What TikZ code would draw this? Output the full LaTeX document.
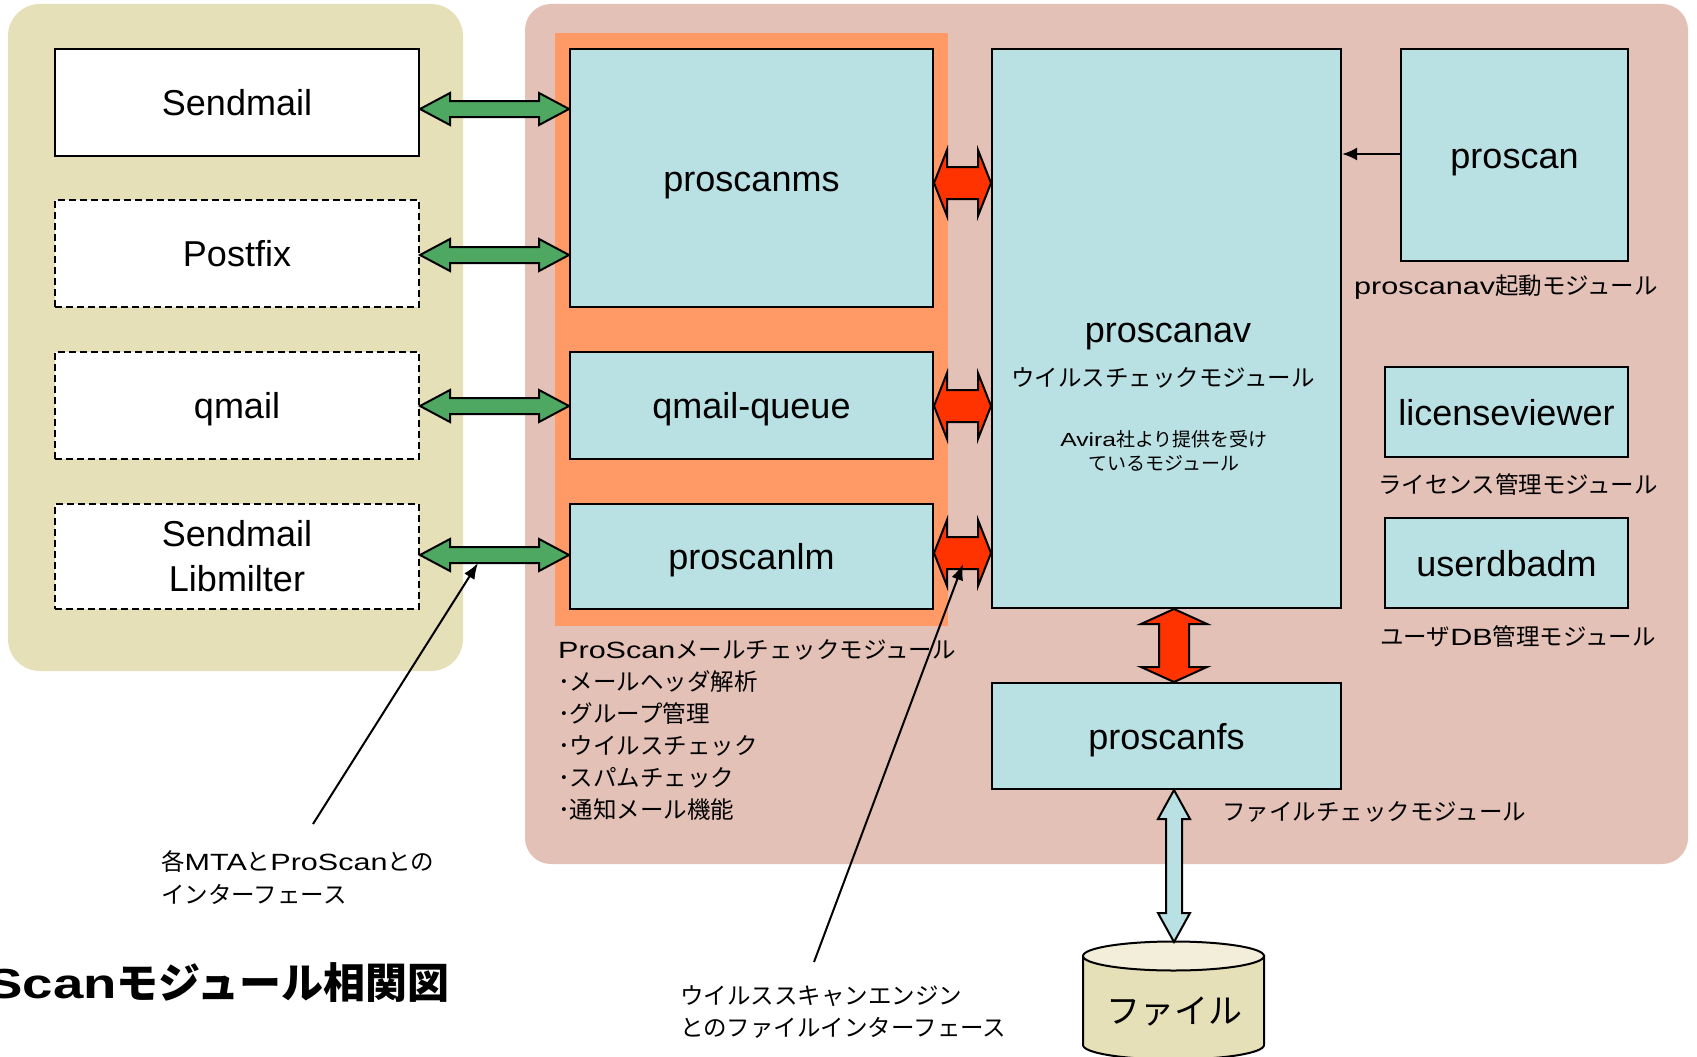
\documentclass[tikz,border=0pt]{standalone}
\usepackage{fontspec}
\setmainfont{Noto Sans CJK JP}
\newfontfamily\lat{Liberation Sans}
\newfontfamily\latw{Liberation Sans}[FakeStretch=1.3]
\usetikzlibrary{calc,arrows.meta}
\definecolor{beige}{RGB}{230,224,184}
\definecolor{pinkbg}{RGB}{228,193,183}
\definecolor{orng}{RGB}{255,153,102}
\definecolor{lblue}{RGB}{185,224,227}
\definecolor{grn}{RGB}{78,168,98}
\definecolor{redarr}{RGB}{255,51,0}
\definecolor{cyltop}{RGB}{242,238,217}
\newcommand\blkH[6]{\draw[#1] let \p1=#2, \p2=#3 in (\x1,\y1) -- (\x1+#6,\y1+#4) -- (\x1+#6,\y1+#5) -- (\x2-#6,\y1+#5) -- (\x2-#6,\y1+#4) -- (\x2,\y1) -- (\x2-#6,\y1-#4) -- (\x2-#6,\y1-#5) -- (\x1+#6,\y1-#5) -- (\x1+#6,\y1-#4) -- cycle;}
\newcommand\blkV[6]{\draw[#1] let \p1=#2, \p2=#3 in (\x1,\y1) -- (\x1+#4,\y1-#6) -- (\x1+#5,\y1-#6) -- (\x1+#5,\y2+#6) -- (\x1+#4,\y2+#6) -- (\x1,\y2) -- (\x1-#4,\y2+#6) -- (\x1-#5,\y2+#6) -- (\x1-#5,\y1-#6) -- (\x1-#4,\y1-#6) -- cycle;}
\begin{document}
\begin{tikzpicture}[x=1pt,y=-1pt,
  boxbase/.style={draw,line width=2pt,fill=lblue,inner sep=0pt,font=\lat\fontsize{36}{45}\selectfont},
  box/.style={boxbase,text height=30pt,text depth=3.5pt},
  mta/.style={box,fill=white},
  mtad/.style={mta,dash pattern=on 7pt off 4pt},
  lbl/.style={inner sep=0pt,font=\fontsize{23.5}{30}\selectfont},
  ptr/.style={line width=2pt,-{Latex[length=16pt,width=12pt]}},
  garrow/.style={draw=black,line width=2pt,fill=grn},
  rarrow/.style={draw=black,line width=2pt,fill=redarr},
  barrow/.style={draw=black,line width=2pt,fill=lblue}]
\useasboundingbox (0,0) rectangle (1697,1057);
\fill[white] (0,0) rectangle (1697,1057);
% panels
\fill[beige, rounded corners=32pt] (8,4) rectangle (463,671);
\fill[pinkbg, rounded corners=26pt] (525,4) rectangle (1688,864);
\fill[orng] (555,33) rectangle (948,626);
% MTA boxes
\node[mta, minimum width=364pt, minimum height=107pt] (sendmail) at (237,102.5) {Sendmail};
\node[mtad, minimum width=364pt, minimum height=107pt] (postfix) at (237,253.5) {Postfix};
\node[mtad, minimum width=364pt, minimum height=107pt] (qmail) at (237,405.5) {qmail};
\node[boxbase, fill=white, dash pattern=on 7pt off 4pt, align=center, minimum width=364pt, minimum height=105pt] (libmilter) at (237,556.5) {Sendmail\\Libmilter};
% ProScan boxes
\node[box, minimum width=363pt, minimum height=258pt] (proscanms) at (751.5,178) {proscanms};
\node[box, minimum width=363pt, minimum height=107pt] (qmailqueue) at (751.5,405.5) {qmail-queue};
\node[box, minimum width=363pt, minimum height=105pt] (proscanlm) at (751.5,556.5) {proscanlm};
\node[box, minimum width=349pt, minimum height=559pt] (proscanav) at (1166.5,328.5) {};
\node[box, minimum width=227pt, minimum height=211pt] (proscan) at (1514.5,155) {proscan};
\node[box, minimum width=243pt, minimum height=90pt] (licenseviewer) at (1506.5,412) {licenseviewer};
\node[box, minimum width=243pt, minimum height=90pt] (userdbadm) at (1506.5,563) {userdbadm};
\node[box, minimum width=349pt, minimum height=106pt] (proscanfs) at (1166.5,736) {proscanfs};
% proscanav texts
\node[inner sep=0pt, font=\lat\fontsize{36}{45}\selectfont, text height=30pt, text depth=3.5pt] (avname) at (1168,329) {proscanav};
\node[lbl] (avdesc) at (1163,378) {ウイルスチェックモジュール};
\node[inner sep=0pt, font=\fontsize{19}{24}\selectfont, align=center] (avira) at (1164,451) {{\latw Avira}社より提供を受け\\ているモジュール};
% labels
\node[lbl] (l1) at (1506,287) {{\latw proscanav}起動モジュール};
\node[lbl] (l2) at (1518,485) {ライセンス管理モジュール};
\node[lbl] (l3) at (1518,637) {ユーザ{\latw DB}管理モジュール};
\node[lbl, anchor=west] (l4) at (1222,812) {ファイルチェックモジュール};
\node[lbl, anchor=west] (m1) at (558,650) {{\latw ProScan}メールチェックモジュール};
\node[lbl, anchor=west] (m2) at (558,682) {･メールヘッダ解析};
\node[lbl, anchor=west] (m3) at (558,714) {･グループ管理};
\node[lbl, anchor=west] (m4) at (558,746) {･ウイルスチェック};
\node[lbl, anchor=west] (m5) at (558,778) {･スパムチェック};
\node[lbl, anchor=west] (m6) at (558,810) {･通知メール機能};
\node[lbl, anchor=west] (t1) at (161,862) {各{\latw MTA}と{\latw ProScan}との};
\node[lbl, anchor=west] (t2) at (161,894) {インターフェース};
\node[lbl, anchor=west] (t3) at (680,996) {ウイルススキャンエンジン};
\node[lbl, anchor=west] (t4) at (680,1028) {とのファイルインターフェース};
\node[inner sep=0pt, anchor=east, font=\bfseries\fontsize{42}{50}\selectfont] (title) at (450,983) {{\latw\bfseries ProScan}モジュール相関図};
% cylinder
\draw[line width=2pt, fill=beige] (1083,956) -- (1083,1045) arc[start angle=180,end angle=360,x radius=90.5pt,y radius=14.5pt] -- (1264,956) -- cycle;
\draw[line width=2pt, fill=cyltop] (1173.5,956) ellipse[x radius=90.5pt, y radius=14.5pt];
\node[inner sep=0pt, font=\fontsize{34}{40}\selectfont] (filelbl) at (1174,1012) {ファイル};
\coordinate (filetop) at (1174,942);
% green arrows
\coordinate (g1) at ($(sendmail.east)+(0,6.5)$);
\coordinate (g2) at ($(postfix.east)+(0,1.5)$);
\coordinate (g3) at ($(qmail.east)+(0,0.5)$);
\coordinate (g4) at ($(libmilter.east)+(0,-1.5)$);
\blkH{garrow}{(g1)}{(proscanms.west)}{16pt}{8pt}{30pt}
\blkH{garrow}{(g2)}{(proscanms.west)}{16pt}{8pt}{30pt}
\blkH{garrow}{(g3)}{(qmailqueue.west)}{16pt}{8pt}{30pt}
\blkH{garrow}{(g4)}{(proscanlm.west)}{16pt}{8pt}{30pt}
% red arrows
\coordinate (r1) at ($(proscanms.east)+(0,5)$);
\coordinate (r2) at ($(qmailqueue.east)+(0,0.5)$);
\coordinate (r3) at ($(proscanlm.east)+(0,-3.5)$);
\blkH{rarrow}{(r1)}{(proscanav.west)}{33pt}{16pt}{13pt}
\blkH{rarrow}{(r2)}{(proscanav.west)}{33pt}{16pt}{13pt}
\blkH{rarrow}{(r3)}{(proscanav.west)}{33pt}{16pt}{13pt}
\coordinate (rv1) at ($(proscanav.south)+(7.5,0)$);
\blkV{rarrow}{(rv1)}{(proscanfs.north)}{33pt}{15pt}{15pt}
\coordinate (lb1) at ($(proscanfs.south)+(7.5,0)$);
\blkV{barrow}{(lb1)}{(filetop)}{16pt}{8pt}{29pt}
% proscan -> proscanav
\coordinate (ay) at (0,154);
\draw[line width=2.5pt,-{Latex[length=15pt,width=13pt]}] (proscan.west |- ay) -- (proscanav.east |- ay);
% pointers
\coordinate (mtaStart) at (313,824);
\coordinate (mtaTip) at (478,563);
\draw[ptr] (mtaStart) -- (mtaTip);
\coordinate (vsStart) at (814,962);
\coordinate (vsTip) at (963,564);
\draw[ptr] (vsStart) -- (vsTip);
\end{tikzpicture}
\end{document}
